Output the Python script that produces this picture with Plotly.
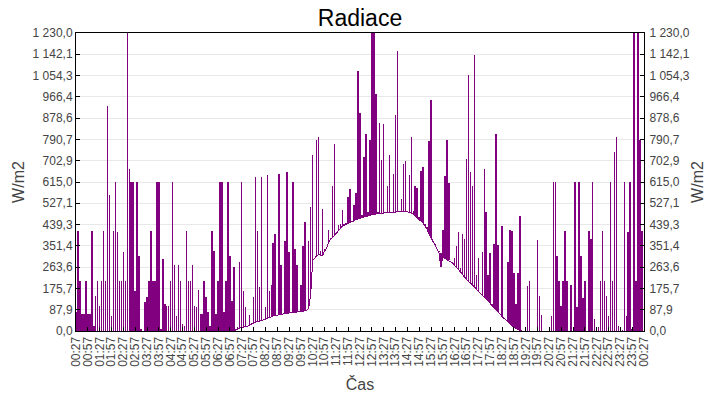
import pandas as pd
import plotly.graph_objects as go

# measurement start, one sample every 5 minutes for 24 h
start = "2024-05-20 00:27"
end = "2024-05-21 00:27"

# W/m2, maximum inside each 5 min interval
radiace_max = [
    80, 413, 205, 70, 70, 205, 70, 70, 413, 20,
    145, 205, 103, 205, 413, 205, 929, 560, 60, 413,
    615, 410, 205, 205, 327, 205, 1230, 669, 615, 615,
    165, 615, 309, 10, 0, 120, 140, 205, 413, 205,
    205, 615, 615, 10, 298, 110, 103, 103, 205, 615,
    272, 60, 272, 205, 30, 20, 413, 205, 205, 272,
    103, 100, 170, 70, 70, 205, 140, 80, 20, 413,
    330, 70, 205, 615, 615, 80, 205, 615, 309, 124,
    263, 10, 15, 284, 615, 164, 100, 20, 65, 30,
    140, 634, 414, 183, 634, 45, 100, 645, 165, 190,
    365, 400, 66, 650, 272, 70, 370, 655, 327, 75,
    615, 340, 272, 78, 190, 350, 450, 84, 370, 510,
    725, 300, 790, 800, 330, 505, 340, 345, 417, 385,
    600, 770, 410, 437, 440, 500, 440, 445, 555, 585,
    455, 520, 570, 1075, 900, 480, 720, 815, 490, 790,
    1230, 1230, 980, 490, 860, 705, 855, 488, 600, 725,
    490, 650, 890, 1155, 495, 545, 690, 700, 495, 645,
    800, 495, 600, 590, 470, 660, 675, 440, 430, 785,
    955, 375, 360, 340, 330, 321, 415, 640, 790, 610,
    290, 280, 300, 350, 410, 260, 400, 380, 710, 1055,
    655, 600, 1140, 231, 300, 158, 327, 670, 490, 231,
    320, 110, 360, 815, 355, 70, 435, 55, 45, 285,
    415, 412, 240, 110, 240, 475, 0, 0, 15, 185,
    205, 0, 0, 0, 375, 145, 65, 0, 0, 0,
    0, 60, 615, 615, 310, 205, 103, 205, 413, 205,
    0, 190, 0, 615, 100, 615, 309, 135, 205, 0,
    413, 380, 615, 50, 0, 15, 205, 413, 205, 145,
    62, 615, 205, 740, 800, 20, 10, 5, 615, 60,
    410, 615, 10, 1230, 205, 1230, 790, 413, 0,
]

# W/m2, minimum inside each 5 min interval (the clear-sky base curve)
radiace_min = [
    0, 0, 0, 0, 0, 0, 0, 0, 0, 0,
    0, 0, 0, 0, 0, 0, 0, 0, 0, 0,
    0, 0, 0, 0, 0, 0, 0, 0, 0, 0,
    0, 0, 0, 0, 0, 0, 0, 0, 0, 0,
    0, 0, 0, 0, 0, 0, 0, 0, 0, 0,
    0, 0, 0, 0, 0, 0, 0, 0, 0, 0,
    0, 0, 0, 0, 0, 0, 0, 0, 0, 0,
    0, 0, 0, 0, 0, 0, 0, 0, 0, 0,
    0, 5, 10, 12, 14, 15, 17, 20, 25, 30,
    33, 36, 38, 40, 42, 45, 48, 52, 56, 60,
    62, 64, 66, 68, 69, 70, 72, 73, 74, 75,
    76, 76, 77, 78, 79, 80, 82, 84, 95, 150,
    290, 300, 310, 315, 313, 310, 330, 340, 365, 380,
    385, 395, 405, 415, 425, 432, 437, 440, 443, 447,
    452, 455, 460, 462, 465, 467, 470, 472, 475, 478,
    480, 482, 483, 485, 486, 486, 487, 488, 488, 489,
    490, 490, 491, 492, 493, 493, 494, 494, 493, 492,
    488, 482, 475, 468, 462, 455, 445, 432, 420, 400,
    385, 375, 355, 340, 325, 265, 305, 300, 295, 292,
    288, 280, 270, 262, 252, 245, 235, 222, 212, 205,
    198, 190, 182, 175, 165, 158, 150, 140, 132, 125,
    115, 102, 95, 86, 78, 70, 60, 52, 45, 38,
    30, 22, 15, 10, 5, 2, 0, 0, 0, 0,
    0, 0, 0, 0, 0, 0, 0, 0, 0, 0,
    0, 0, 0, 0, 0, 0, 0, 0, 0, 0,
    0, 0, 0, 0, 0, 0, 0, 0, 0, 0,
    0, 0, 0, 0, 0, 0, 0, 0, 0, 0,
    0, 0, 0, 0, 0, 0, 0, 0, 0, 0,
    0, 0, 0, 0, 0, 0, 0, 0, 0,
]

y_tick_vals = [0, 87.86, 175.71, 263.57, 351.43, 439.29, 527.14, 615,
               702.86, 790.71, 878.57, 966.43, 1054.29, 1142.14, 1230]
y_tick_text = ["0,0", "87,9", "175,7", "263,6", "351,4", "439,3", "527,1", "615,0",
               "702,9", "790,7", "878,6", "966,4", "1 054,3", "1 142,1", "1 230,0"]

cas = pd.date_range(start, periods=len(radiace_max), freq="5min")
spread = [hi - lo for hi, lo in zip(radiace_max, radiace_min)]

font = "Liberation Sans, Arial, sans-serif"
gray = "#444444"
purple = "#800080"

fig = go.Figure()
# base curve, with the min..max range of each interval as a vertical stroke
fig.add_trace(go.Scatter(
    x=cas, y=radiace_min, mode="lines", name="Radiace",
    line=dict(color=purple, width=1),
    error_y=dict(type="data", symmetric=False, array=spread,
                 arrayminus=[0] * len(spread), color=purple, thickness=1.5, width=0),
))
# invisible copy so the right axis gets drawn
fig.add_trace(go.Scatter(x=cas, y=radiace_max, yaxis="y2", mode="lines",
                         line=dict(color="rgba(0,0,0,0)", width=1),
                         hoverinfo="skip", showlegend=False))

yax = dict(range=[0, 1230], tickvals=y_tick_vals, ticktext=y_tick_text,
           ticks="inside", ticklen=4, tickcolor="black",
           showline=True, linecolor="black", linewidth=1,
           tickfont=dict(family=font, size=12, color=gray),
           title=dict(text="W/m2", font=dict(family=font, size=16, color=gray), standoff=3),
           zeroline=False, automargin=False)

fig.update_layout(
    width=720, height=400,
    margin=dict(l=76, r=76, t=33, b=69),
    paper_bgcolor="white", plot_bgcolor="white",
    showlegend=False,
    title=dict(text="Radiace", x=0.5, xanchor="center", y=0.975, yanchor="top",
               yref="container", font=dict(family=font, size=23, color="black")),
    xaxis=dict(range=[start, end], type="date", tick0=start, dtick=30 * 60 * 1000,
               tickformat="%H:%M", tickangle=-90,
               ticks="inside", ticklen=4, tickcolor="black",
               showline=True, linecolor="black", linewidth=1, mirror=True,
               showgrid=False, zeroline=False, automargin=False,
               tickfont=dict(family=font, size=12, color=gray),
               title=dict(text="Čas", font=dict(family=font, size=16, color=gray), standoff=12)),
    yaxis=dict(**yax, showgrid=True, gridcolor="#e8e8e8", gridwidth=1),
    yaxis2=dict(**yax, overlaying="y", side="right", showgrid=False, ticklabelstandoff=2),
)

# no page margin, and pixel-sharp strokes like the original chart
js = """
document.body.style.margin = '0';
document.querySelectorAll('.scatterlayer path').forEach(function (p) {
    p.style.shapeRendering = 'crispEdges';
});
"""
fig.write_html("out.html", config={"displayModeBar": False}, post_script=js)
